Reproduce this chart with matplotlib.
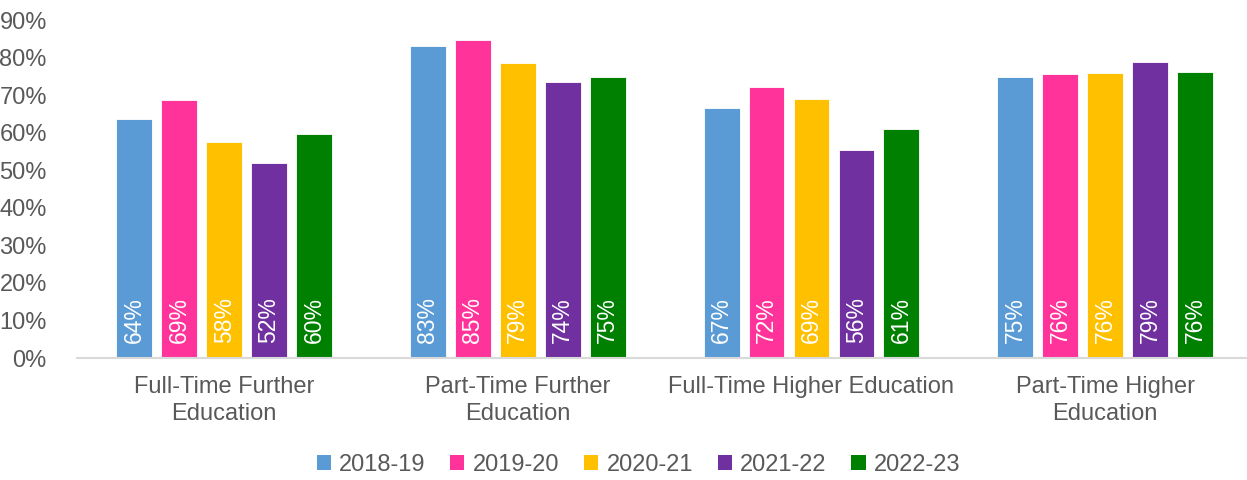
import numpy as np
import matplotlib.pyplot as plt
from matplotlib.patches import Patch

plt.rcParams['font.family'] = ['Liberation Sans', 'DejaVu Sans']

# 数据
categories = ["Full-Time Further\nEducation", "Part-Time Further\nEducation",
              "Full-Time Higher Education", "Part-Time Higher\nEducation"]
years = ["2018-19", "2019-20", "2020-21", "2021-22", "2022-23"]
v_1819 = [0.638, 0.831, 0.667, 0.748]
v_1920 = [0.688, 0.847, 0.723, 0.757]
v_2021 = [0.576, 0.786, 0.691, 0.760]
v_2122 = [0.520, 0.736, 0.555, 0.789]
v_2223 = [0.596, 0.749, 0.609, 0.761]
series = [v_1819, v_1920, v_2021, v_2122, v_2223]
colors = ["#5B9BD5", "#FF3399", "#FFC000", "#7030A0", "#008000"]

grey = "#595959"

fig = plt.figure(figsize=(12.47, 4.8), dpi=100)
ax = fig.add_axes([0.062, 0.254, 0.942, 0.704])

x = np.arange(len(categories))
step = 0.153
w = 0.122
for i, (vals, c) in enumerate(zip(series, colors)):
    pos = x + (i - 2) * step
    ax.bar(pos, vals, width=w, color=c, edgecolor="white", linewidth=0.6)
    for p, v in zip(pos, vals):
        ax.annotate(f"{round(v * 100):.0f}%", (p, 0), xytext=(0, 11),
                    textcoords="offset points", rotation=90, ha="center",
                    va="bottom", color="white", fontsize=16.5)

ax.set_xlim(-0.5, 3.5)
ax.set_ylim(0, 0.9)
ax.set_yticks(np.arange(0, 0.91, 0.1))
ax.set_yticklabels([f"{t}%" for t in range(0, 91, 10)])
ax.set_xticks(x)
ax.set_xticklabels(categories, linespacing=1.3)
ax.tick_params(axis="both", length=0, labelsize=17, colors=grey)
ax.tick_params(axis="x", pad=13)
ax.tick_params(axis="y", pad=22)

for s in ["top", "right", "left"]:
    ax.spines[s].set_visible(False)
ax.spines["bottom"].set_color("#D9D9D9")
ax.spines["bottom"].set_linewidth(1.5)

handles = [Patch(facecolor=c, label=y) for c, y in zip(colors, years)]
fig.legend(handles=handles, loc="center", bbox_to_anchor=(0.512, 0.032), ncol=5,
           frameon=False, fontsize=17, labelcolor=grey, handlelength=0.6,
           handleheight=0.6, handletextpad=0.35, columnspacing=1.05)

plt.savefig("out.png", dpi=100)
